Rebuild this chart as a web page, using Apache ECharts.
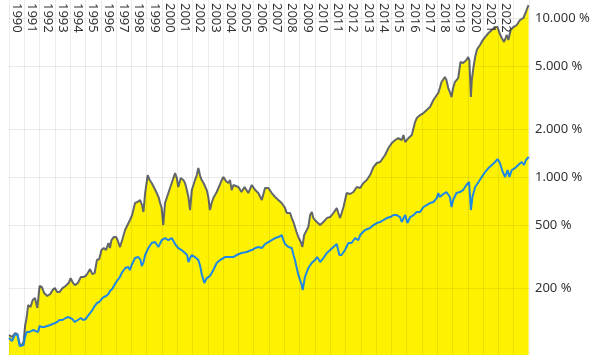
<!DOCTYPE html>
<html>
<head>
<meta charset="utf-8">
<script src="https://cdn.jsdelivr.net/npm/echarts@6/dist/echarts.min.js"></script>
<style>
html,body{margin:0;padding:0;background:#fff;}
#chart{width:593px;height:360px;}
</style>
</head>
<body>
<div id="chart"></div>
<script>
// Year labels shown at top (one per year band)
var yearLabels = ['1990','1991','1992','1993','1994','1995','1996','1997','1998','1999','2000','2001','2002','2003','2004','2005','2006','2007','2008','2009','2010','2011','2012','2013','2014','2015','2016','2017','2018','2019','2020','2021','2022',''];
// Y tick labels (percent)
var yTicks = [200, 500, 1000, 2000, 5000, 10000];

// Series 1 (grey line, yellow area) – decimal years and values in %
var grayYears = [1990.00,1990.20,1990.40,1990.55,1990.70,1990.80,1990.95,1991.05,1991.15,1991.25,1991.40,1991.55,1991.70,1991.85,1992.00,1992.15,1992.30,1992.50,1992.70,1992.85,1993.00,1993.15,1993.30,1993.50,1993.70,1993.90,1994.03,1994.15,1994.30,1994.50,1994.70,1994.85,1995.00,1995.15,1995.30,1995.45,1995.60,1995.75,1995.90,1996.05,1996.20,1996.35,1996.50,1996.60,1996.70,1996.85,1997.00,1997.10,1997.26,1997.40,1997.59,1997.75,1997.91,1998.05,1998.24,1998.40,1998.57,1998.70,1998.79,1998.90,1999.07,1999.20,1999.33,1999.50,1999.66,1999.80,1999.88,1999.98,2000.09,2000.20,2000.42,2000.64,2000.86,2000.97,2001.07,2001.23,2001.40,2001.51,2001.63,2001.73,2001.84,2001.95,2002.06,2002.16,2002.28,2002.38,2002.50,2002.60,2002.72,2002.82,2002.93,2003.03,2003.14,2003.25,2003.36,2003.47,2003.58,2003.75,2003.91,2004.02,2004.18,2004.34,2004.45,2004.56,2004.67,2004.78,2005.00,2005.20,2005.40,2005.65,2005.87,2006.10,2006.30,2006.53,2006.74,2006.96,2007.18,2007.40,2007.61,2007.83,2008.05,2008.16,2008.27,2008.38,2008.49,2008.60,2008.70,2008.80,2008.92,2009.08,2009.18,2009.30,2009.47,2009.57,2009.69,2009.80,2009.90,2010.13,2010.34,2010.56,2010.78,2011.00,2011.21,2011.43,2011.53,2011.65,2011.87,2012.08,2012.30,2012.52,2012.74,2012.96,2013.17,2013.39,2013.61,2013.83,2014.05,2014.27,2014.37,2014.59,2014.81,2015.03,2015.25,2015.46,2015.68,2015.79,2015.90,2016.00,2016.12,2016.34,2016.45,2016.55,2016.66,2016.77,2016.88,2017.10,2017.31,2017.53,2017.75,2017.97,2018.07,2018.17,2018.28,2018.39,2018.50,2018.60,2018.72,2018.83,2018.93,2019.04,2019.15,2019.37,2019.52,2019.69,2019.91,2020.02,2020.10,2020.20,2020.26,2020.37,2020.48,2020.59,2020.70,2020.80,2020.98,2021.13,2021.35,2021.57,2021.78,2021.94,2022.07,2022.22,2022.37,2022.55,2022.65,2022.80,2022.98,2023.20,2023.41,2023.63,2023.80,2023.89,2023.97];
var grayValues = [101.5,98.6,104.4,102.9,89.1,86.5,91.7,115.6,129.8,156.7,152,168.4,173.4,150.1,206.3,203.4,186.4,178.5,183.8,194.7,200.4,189.1,189.1,200.4,206.3,215.4,231.6,218.6,209.3,215.4,235,235,238.5,249,263.8,245.4,249,300.6,305,347.4,357.6,347.4,384.5,357.6,401.6,419.4,419.4,401.6,362.8,401.6,464.2,499.1,536.6,576.8,686.4,696.4,716.8,666.7,602.5,793,1029,957,917,853,793,738,686,638,499,686,793,917,1060,986,865,986,957,917,828,749,620,828,891,957,1029,1139,1015,957,917,891,828,749,620,686,738,770,805,878,957,1000,944,917,957,828,891,917,865,805,865,793,891,828,793,717,853,853,793,749,717,686,638,594,603,594,552,521,485,451,419,390,363,432,464,485,577,603,552,521,499,521,552,560,594,638,594,552,648,793,782,805,865,853,917,957,1029,1156,1225,1243,1279,1375,1522,1636,1709,1759,1709,1838,1660,1636,1759,1838,2033,2218,2350,2283,2454,2526,2638,2756,3050,3279,3376,3628,3958,3901,4255,4075,3628,3424,3185,3628,3958,4194,5288,5212,5443,5684,5443,3185,4075,4918,5684,6291,6570,6764,7270,7594,8049,8406,8777,8777,8049,7485,7066,7822,7270,8406,8777,9036,9714,10000,10907,11557,12069];

// Series 2 (blue line)
var blueYears = [1990.00,1990.20,1990.40,1990.55,1990.70,1990.80,1990.95,1991.05,1991.15,1991.30,1991.45,1991.60,1991.75,1991.90,1992.00,1992.15,1992.30,1992.50,1992.70,1992.85,1993.00,1993.15,1993.30,1993.50,1993.70,1993.90,1994.03,1994.15,1994.30,1994.50,1994.70,1994.85,1995.00,1995.15,1995.30,1995.45,1995.60,1995.75,1995.90,1996.05,1996.20,1996.35,1996.50,1996.60,1996.75,1996.93,1997.10,1997.25,1997.37,1997.60,1997.80,1997.90,1998.02,1998.24,1998.46,1998.60,1998.68,1998.80,1998.90,1999.11,1999.33,1999.55,1999.77,1999.99,2000.20,2000.42,2000.64,2000.86,2001.07,2001.29,2001.51,2001.65,2001.73,2001.84,2001.95,2002.16,2002.38,2002.50,2002.60,2002.77,2002.93,2003.14,2003.36,2003.58,2003.80,2004.12,2004.34,2004.45,2004.67,2004.88,2005.20,2005.53,2005.87,2006.10,2006.30,2006.53,2006.74,2006.96,2007.18,2007.40,2007.61,2007.72,2007.83,2007.94,2008.05,2008.27,2008.49,2008.60,2008.70,2008.80,2008.92,2009.03,2009.14,2009.20,2009.35,2009.57,2009.79,2010.01,2010.15,2010.34,2010.56,2010.78,2011.00,2011.21,2011.43,2011.60,2011.74,2011.97,2012.19,2012.40,2012.63,2012.84,2012.96,2013.28,2013.61,2013.83,2014.05,2014.27,2014.48,2014.70,2014.92,2015.14,2015.35,2015.57,2015.68,2015.90,2016.05,2016.23,2016.45,2016.66,2016.88,2017.10,2017.31,2017.53,2017.75,2017.97,2018.07,2018.17,2018.39,2018.60,2018.83,2018.93,2019.04,2019.26,2019.48,2019.69,2019.91,2020.08,2020.20,2020.30,2020.48,2020.70,2020.91,2021.13,2021.35,2021.57,2021.78,2021.94,2022.10,2022.28,2022.44,2022.60,2022.72,2022.87,2023.09,2023.30,2023.52,2023.67,2023.80,2023.98];
var blueValues = [97.1,93.0,102.9,101.5,86.5,84.1,87.8,98.6,106,106,107.5,109.1,107.5,106,115.6,113.9,113.9,115.6,117.3,119,120.7,122.5,126.1,126.1,129.8,131.7,131.7,127.9,122.5,126.1,129.8,126.1,127.9,133.6,139.5,145.7,154.4,161.3,163.7,170.9,176,178.5,183.8,191.9,197.5,212.3,225,235.1,249,267.7,271.7,260.1,279.6,309.5,314,300.6,275.6,292,323.2,357.6,384.5,390.1,363,401.6,413.4,401.6,413.4,378.9,357.6,347.4,332.7,323.2,292,309.5,323.2,314,300.6,275.6,245.4,215.4,231.6,238.5,260.1,287.8,300.6,314,314,309.5,314,323.2,332.7,337.6,347.4,357.6,363,357.6,378.9,390.1,401.6,413.4,419.4,413.4,431.6,401.6,378.9,363,357.6,323.2,300.6,271.7,241.9,249,209.3,194.7,235.1,267.7,287.8,300.6,314,292,309.5,332.7,347.4,363,378.9,323.2,323.2,347.4,384.5,384.5,413.4,401.6,431.6,464.2,477.9,499.1,513.7,521.2,536.6,552.3,560.4,576.8,576.8,560.4,521.2,576.8,513.7,560.4,576.8,602.5,602.5,647.7,666.7,686.4,696.4,737.9,793,748.6,781.6,804.6,748.6,647.7,716.8,793,804.6,828.4,890.7,930.3,620.2,748.6,865.2,930.3,1000,1075,1139,1190,1243,1298,1225,1075,1000,1107,1000,1107,1139,1190,1243,1190,1279,1336];

function zip(xs, ys) { return xs.map(function (x, i) { return [x, ys[i]]; }); }
function fmtPct(v) { return String(v).replace(/\B(?=(\d{3})+(?!\d))/g, '.') + ' %'; }

var gridColor = 'rgba(0,0,0,0.08)';
var chart = echarts.init(document.getElementById('chart'), null, { renderer: 'canvas' });
chart.setOption({
  animation: false,
  backgroundColor: '#ffffff',
  textStyle: { fontFamily: 'Noto Sans' },
  grid: { left: 9, right: 64, top: 0, bottom: 5, containLabel: false },
  xAxis: [
    {
      type: 'value', min: 1990, max: 2024, interval: 1, z: 5,
      axisLine: { show: false }, axisTick: { show: false }, axisLabel: { show: false },
      splitLine: { show: true, lineStyle: { color: gridColor, width: 1 } }
    },
    {
      type: 'category', position: 'top', data: yearLabels, boundaryGap: true, z: 6,
      axisLine: { show: false }, axisTick: { show: false }, splitLine: { show: false },
      axisLabel: { inside: true, rotate: 90, interval: 0, margin: 3, fontSize: 13, color: '#333', fontFamily: 'Noto Sans' }
    }
  ],
  yAxis: {
    type: 'log', logBase: 10, min: 76, max: 12980, position: 'right', z: 5,
    axisLine: { show: false },
    axisTick: { show: false, customValues: yTicks },
    axisLabel: { customValues: yTicks, formatter: fmtPct, margin: 6, fontSize: 13, color: '#333', fontFamily: 'Noto Sans' },
    splitLine: { show: true, lineStyle: { color: gridColor, width: 1 } }
  },
  series: [
    {
      type: 'line', xAxisIndex: 0, data: zip(grayYears, grayValues), showSymbol: false, z: 2,
      lineStyle: { color: '#62676c', width: 2 },
      itemStyle: { color: '#62676c' },
      areaStyle: { color: '#fff200', opacity: 1, origin: 'start' }
    },
    {
      type: 'line', xAxisIndex: 0, data: zip(blueYears, blueValues), showSymbol: false, z: 3,
      lineStyle: { color: '#1e88e5', width: 2 },
      itemStyle: { color: '#1e88e5' }
    }
  ]
});
</script>
</body>
</html>
